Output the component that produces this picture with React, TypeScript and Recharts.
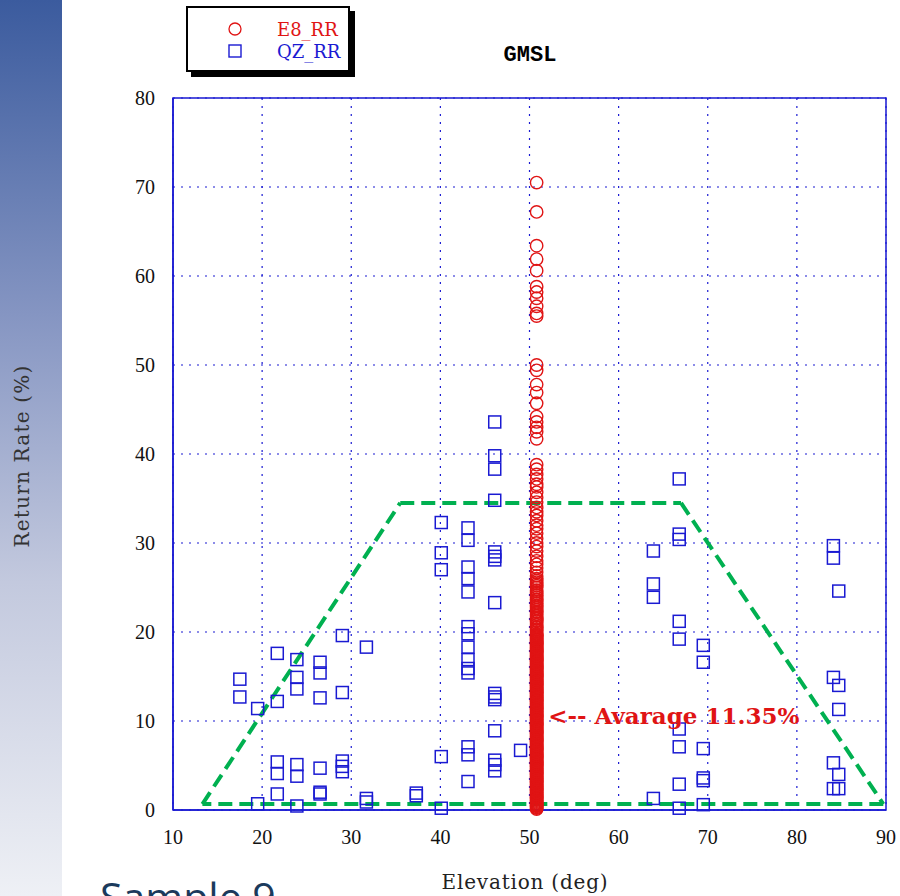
import React from "react";
import {
  ScatterChart,
  Scatter,
  XAxis,
  YAxis,
  CartesianGrid,
  ReferenceLine,
  ReferenceArea,
  ReferenceDot,
} from "recharts";

// E8_RR: all returns sit on one elevation column
const E8_ELEVATION = 50.8;
const e8Rates = [
  70.5, 67.2, 63.4, 61.9, 60.6, 58.8, 58.2, 57.5, 56.6, 55.8, 55.5,
  50.0, 49.4, 47.8, 46.9, 45.7, 44.2, 43.6, 43.0, 42.5, 41.7,
  38.8, 38.3, 37.7, 37.2, 36.6, 36.3, 35.7, 35.1, 34.6, 34.0, 33.5, 33.1,
  32.5, 32.0, 31.6, 31.1, 30.5, 30.0, 29.6, 29.1, 28.5, 28.0, 27.6, 27.2,
  26.7, 26.3, 25.8, 25.4, 25.0, 24.7, 24.3, 23.9, 23.6, 23.2, 22.9, 22.5,
  22.2, 21.8, 21.5, 21.2, 20.8, 20.5, 20.2,
  19.8, 19.6, 19.4, 19.2, 19.1, 18.9, 18.7, 18.5, 18.3, 18.1, 17.9, 17.8,
  17.6, 17.4, 17.2, 17.0, 16.8, 16.7, 16.5, 16.3, 16.1, 15.9, 15.7, 15.6,
  15.4, 15.2, 15.0, 14.8, 14.6, 14.5, 14.3, 14.1, 13.9, 13.7, 13.5, 13.4,
  13.2, 13.0, 12.8, 12.6, 12.4, 12.3, 12.1, 11.9, 11.7, 11.5, 11.3, 11.2,
  11.0, 10.8, 10.6, 10.4, 10.2, 10.1, 9.9, 9.7, 9.5, 9.3, 9.1, 9.0,
  8.8, 8.6, 8.4, 8.2, 8.0, 7.9, 7.7, 7.5, 7.3, 7.1, 6.9, 6.8,
  6.6, 6.4, 6.2, 6.0, 5.8, 5.7, 5.5, 5.3, 5.1, 4.9, 4.7, 4.6,
  4.4, 4.2, 4.0, 3.8, 3.6, 3.5, 3.3, 3.1, 2.9, 2.7, 2.5, 2.4,
  2.2, 2.0, 1.8, 1.6, 1.4, 1.3, 1.1, 0.9, 0.7, 0.5, 0.3, 0.2,
];
// second pass of E8 returns in the crowded low band
const e8RatesLow = [
  26.0, 25.6, 25.2, 24.5, 24.1, 23.7, 23.4, 23.0, 22.7, 22.3, 22.0, 21.6,
  21.3, 21.0, 20.6, 20.3, 20.0, 19.7, 19.5, 19.3, 19.0, 18.8, 18.6, 18.4,
  18.2, 18.0, 17.7, 17.5, 17.3, 17.1, 16.9, 16.6, 16.4, 16.2, 16.0, 15.8,
  15.5, 15.3, 15.1, 14.9, 14.7, 14.4, 14.2, 14.0, 13.8, 13.6, 13.3, 13.1,
  12.9, 12.7, 12.5, 12.2, 12.0, 11.8, 11.6, 11.4, 11.1, 10.9, 10.7, 10.5,
  10.3, 10.0, 9.8, 9.6, 9.4, 9.2, 8.9, 8.7, 8.5, 8.3, 8.1, 7.8,
  7.6, 7.4, 7.2, 7.0, 6.7, 6.5, 6.3, 6.1, 5.9, 5.6, 5.4, 5.2,
  5.0, 4.8, 4.5, 4.3, 4.1, 3.9, 3.7, 3.4, 3.2, 3.0, 2.8, 2.6,
  2.3, 2.1, 1.9, 1.7, 1.5, 1.2, 1.0, 0.8, 0.6, 0.4, 0.1,
];

// QZ_RR: elevation columns and the returns in each
const qzElevations = [
  17.5, 19.5, 21.7, 23.9, 26.5, 29.0, 31.7, 37.3, 40.1, 43.1, 46.1, 49.0,
  63.9, 66.8, 69.5, 84.1, 84.7,
];
const qzRates = [
  [14.7, 12.7],
  [11.4, 0.7],
  [17.6, 12.2, 5.4, 4.1, 1.8],
  [16.9, 14.9, 13.6, 5.1, 3.8, 0.45],
  [16.6, 15.4, 12.6, 4.7, 2.0, 1.8],
  [19.6, 13.2, 5.5, 4.9, 4.3],
  [18.3, 1.3, 0.9],
  [1.9, 1.6],
  [32.3, 28.9, 27.0, 6.0, 0.2],
  [31.7, 30.3, 27.3, 26.0, 24.5, 20.6, 19.8, 18.3, 16.9, 15.9, 15.4, 7.1, 6.2, 3.2],
  [43.6, 39.8, 38.3, 34.8, 29.0, 28.5, 28.1, 23.3, 13.1, 12.7, 12.4, 8.9, 5.6, 5.1, 4.4],
  [6.7],
  [29.1, 25.4, 23.9, 1.3],
  [37.2, 31.0, 30.4, 21.2, 19.2, 9.1, 7.1, 2.9, 0.2],
  [18.5, 16.6, 6.9, 3.6, 3.3, 0.6],
  [29.7, 28.3, 14.9, 5.3, 2.4],
  [24.6, 14.0, 11.3, 4.0, 2.4],
];

// green dashed envelope
const envElev = [13.3, 35.5, 67.0, 89.7];
const envRate = [0.67, 34.5, 34.5, 0.67];

const xTicks = [10, 20, 30, 40, 50, 60, 70, 80, 90];
const yTicks = [0, 10, 20, 30, 40, 50, 60, 70, 80];

const AVERAGE = 11.35;
const annotElev = 52.1;
const annotRate = 10.6;

const e8Data = [...e8Rates, ...e8RatesLow].map((y) => ({ x: E8_ELEVATION, y }));
const qzData = qzElevations.flatMap((x, i) => qzRates[i].map((y) => ({ x, y })));

const RED = "#e01414";
const BLUE = "#1a1ad2";
const GREEN = "#00b050";

const Circle = (p: any) => (
  <circle cx={p.cx} cy={p.cy} r={6.2} fill="none" stroke={RED} strokeWidth={1.4} />
);
const Square = (p: any) => (
  <rect x={p.cx - 6} y={p.cy - 6} width={12} height={12} fill="none" stroke={BLUE} strokeWidth={1.5} />
);

const tickStyle = { fill: "#111", fontSize: 20, fontFamily: "Liberation Serif" };
const labelFont = "DejaVu Serif";

export default function App() {
  const segments = [0, 1, 2, 3].map((i) => {
    const j = (i + 1) % 4;
    return [
      { x: envElev[i], y: envRate[i] },
      { x: envElev[j], y: envRate[j] },
    ];
  });

  return (
    <div
      style={{
        position: "absolute",
        left: 0,
        top: 0,
        width: 900,
        height: 896,
        overflow: "hidden",
        background: "#fff",
      }}
    >
      <div
        style={{
          position: "absolute",
          left: 0,
          top: 0,
          width: 62,
          height: 896,
          background: "linear-gradient(to bottom, #3b5b9e 0%, #8595c2 35%, #c3c9de 65%, #eef0f5 100%)",
        }}
      />
      <ScatterChart width={900} height={896} margin={{ top: 98, right: 14, bottom: 0, left: 0 }}>
        <CartesianGrid stroke={BLUE} strokeDasharray="2 6" strokeWidth={1.2} />
        <XAxis
          type="number"
          dataKey="x"
          domain={[10, 90]}
          ticks={xTicks}
          height={86}
          tickSize={0}
          tickMargin={20}
          tick={tickStyle}
          axisLine={{ stroke: BLUE, strokeWidth: 1.5 }}
        />
        <YAxis
          type="number"
          dataKey="y"
          domain={[0, 80]}
          ticks={yTicks}
          width={173}
          tickSize={0}
          tickMargin={18}
          tick={tickStyle}
          axisLine={{ stroke: BLUE, strokeWidth: 1.5 }}
        />
        <ReferenceArea x1={10} x2={90} y1={0} y2={80} fill="none" stroke={BLUE} strokeWidth={1.5} />
        <Scatter name="QZ_RR" data={qzData} shape={Square} isAnimationActive={false} />
        <Scatter name="E8_RR" data={e8Data} shape={Circle} isAnimationActive={false} />
        {segments.map((seg, i) => (
          <ReferenceLine
            key={i}
            segment={seg}
            stroke={GREEN}
            strokeWidth={4}
            strokeDasharray="14 7"
          />
        ))}
        <ReferenceDot
          x={annotElev}
          y={annotRate}
          r={0}
          fill="none"
          stroke="none"
          label={(props: any) => {
            const vb = props.viewBox || {};
            return (
              <text
                x={vb.x}
                y={vb.y}
                dominantBaseline="central"
                fill={RED}
                fontSize={23}
                fontWeight="bold"
                fontFamily={labelFont}
              >
                {`<-- Avarage ${AVERAGE}%`}
              </text>
            );
          }}
        />
      </ScatterChart>

      <div
        style={{
          position: "absolute",
          left: 530,
          top: 55,
          transform: "translate(-50%, -50%)",
          fontFamily: "Liberation Mono",
          fontWeight: "bold",
          fontSize: 22,
          color: "#000",
        }}
      >
        GMSL
      </div>

      <div
        style={{
          position: "absolute",
          left: 186,
          top: 6,
          width: 160,
          height: 62,
          border: "2px solid #000",
          boxShadow: "5px 5px 0 #000",
          background: "#fff",
        }}
      >
        <svg width={160} height={62} style={{ position: "absolute", left: 0, top: 0 }}>
          <circle cx={47} cy={21} r={6} fill="none" stroke={RED} strokeWidth={1.3} />
          <rect x={41} y={37} width={12} height={12} fill="none" stroke={BLUE} strokeWidth={1.4} />
          <text x={89} y={21} dominantBaseline="central" fill={RED} fontSize={18} fontFamily={labelFont}>
            E8_RR
          </text>
          <text x={89} y={43} dominantBaseline="central" fill={BLUE} fontSize={18} fontFamily={labelFont}>
            QZ_RR
          </text>
        </svg>
      </div>

      <div
        style={{
          position: "absolute",
          left: 22,
          top: 456,
          transform: "translate(-50%, -50%) rotate(-90deg)",
          whiteSpace: "nowrap",
          fontFamily: labelFont,
          fontSize: 20,
          letterSpacing: 1.2,
          color: "#333",
        }}
      >
        Return Rate (%)
      </div>
      <div
        style={{
          position: "absolute",
          left: 525,
          top: 882,
          transform: "translate(-50%, -50%)",
          whiteSpace: "nowrap",
          fontFamily: labelFont,
          fontSize: 20,
          letterSpacing: 0.8,
          color: "#222",
        }}
      >
        Elevation (deg)
      </div>
      <div
        style={{
          position: "absolute",
          left: 100,
          top: 876,
          fontFamily: "Open Sans",
          fontSize: 41,
          lineHeight: "41px",
          color: "#1b3a5c",
          whiteSpace: "nowrap",
        }}
      >
        Sample 9
      </div>
    </div>
  );
}
